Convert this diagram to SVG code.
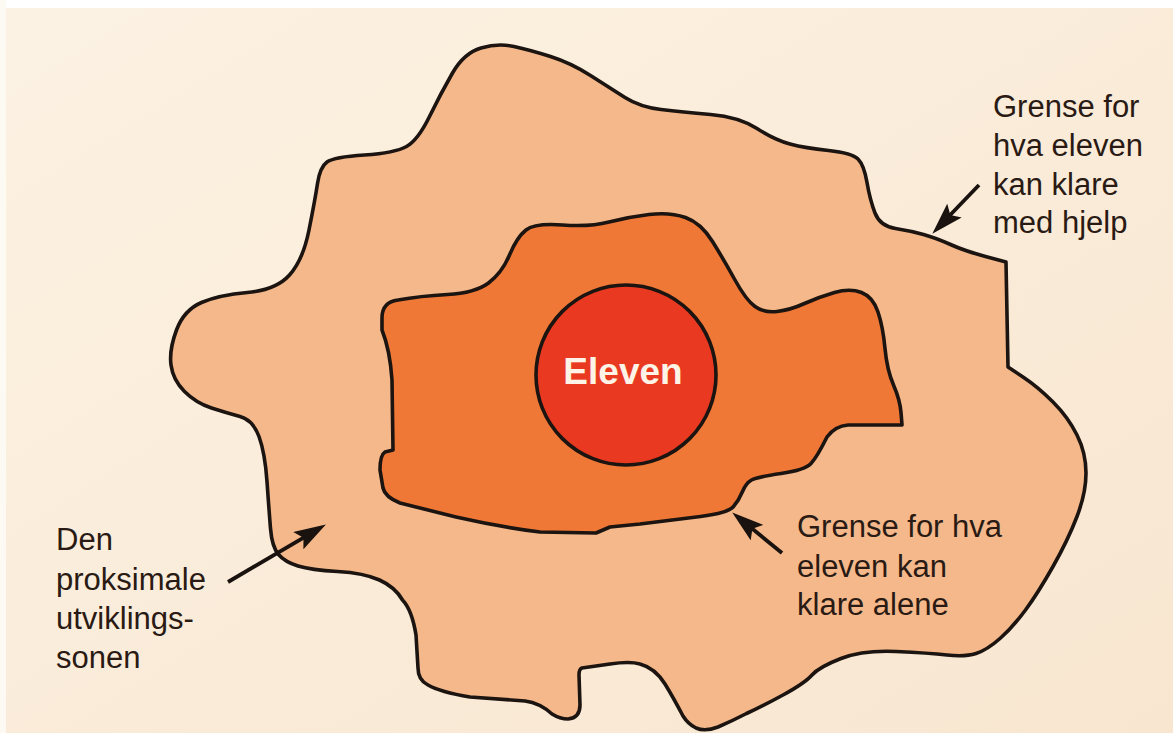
<svg xmlns="http://www.w3.org/2000/svg" width="1173" height="733" viewBox="0 0 1173 733">
<defs>
<linearGradient id="paper" x1="0" y1="0" x2="1" y2="1">
<stop offset="0" stop-color="#fcf2e3"/>
<stop offset="1" stop-color="#f8e6d0"/>
</linearGradient>
<marker id="head" viewBox="0 0 32 20" refX="19" refY="10" markerWidth="32" markerHeight="20" markerUnits="userSpaceOnUse" orient="auto">
<path d="M0,0 L32,10 L0,20 L6,10 Z" fill="#1a120e"/>
</marker>
<style>
.zone{stroke:#1c1410;stroke-width:3.6;stroke-linejoin:round}
.lbl{font-family:"Liberation Sans",Arial,sans-serif;font-size:31px;fill:#2a1a14}
.arrow{stroke:#1a120e;stroke-width:3.8;fill:none;marker-end:url(#head)}
</style>
</defs>
<rect x="0" y="0" width="1173" height="733" fill="url(#paper)"/>
<rect x="0" y="0" width="1173" height="8" fill="#ffffff"/>
<rect x="0" y="0" width="6" height="733" fill="#fdfaf4"/>

<g id="outer-zone">
<path class="zone" fill="#f4b88a" d="M481,48 Q498,43 514,46.5 Q530,50 550.5,56.5 Q571,63 590.5,75.5 Q610,88 625,97.5 Q640,107 661,109.5 Q682,112 710.5,114.5 Q739,117 757,128.5 Q775,140 790,144 Q805,148 828.5,150.5 Q852,153 858,159 Q864,165 867,182.5 Q870,200 875,213 Q880,226 895.5,228.5 Q911,231 923.5,234.5 Q936,238 950.5,244.5 Q965,251 985.5,256.5 L1006,262 L1008,367 L1023,377 Q1038,387 1053,402 Q1068,417 1077,435 Q1086,453 1086,473 Q1086,493 1077,516.5 Q1068,540 1053,566.5 Q1038,593 1025.5,610 Q1013,627 1000,638.5 Q987,650 976,653.5 Q965,657 947,655 Q929,653 896,651.5 Q863,650 841,658.5 Q819,667 812,675 Q805,683 783,695 Q761,707 746.5,713.5 Q732,721 718,727 Q705,732 696,728 Q688,724 683,716 Q673,697 665,684 Q655,668 640,664 Q630,661 610,664 L582,668 Q579,669 579,675 L580,705 Q580,718 568,719 Q560,719 552,714 Q540,703 525,701 L470,697 Q440,692 428,685 Q418,680 418,668 L416,635 Q412,610 402.5,600 Q395,587 379.5,580 Q364,573 337.5,571.5 Q311,570 298,566 Q285,562 278.5,554.5 Q272,547 270.5,528.5 Q269,510 267,481.5 Q265,453 259,436.5 Q253,420 240,416.5 Q227,413 211.5,408 Q196,403 184.5,391.5 Q173,380 171,365 Q169,350 176.5,330 Q184,310 201.5,302.5 Q219,295 247.5,292.5 Q276,290 289.5,275 Q303,260 309,230 Q315,200 317.5,183.5 Q320,167 327,162 Q334,157 364.5,155 Q395,153 406.5,146.5 Q418,140 429.5,116.5 Q441,93 452.5,73 Q464,53 481,48 Z"/>
</g>

<g id="inner-zone">
<path class="zone" fill="#ef7837" d="M382,318 Q382,302 398,300 Q420,296 447.5,294.5 Q475,293 488.5,283 Q502,273 509.5,255 Q517,237 526,230 Q535,223 562.5,225 Q590,227 609,222 Q628,217 649,214.5 Q670,212 685.5,217.5 Q701,223 712.5,241.5 Q724,260 735,280 Q746,300 755,306.5 Q764,313 777,311.5 Q790,310 804.5,303.5 Q819,297 834.5,292.5 Q850,288 861.5,292.5 Q873,297 878,312 Q883,327 885,348.5 Q887,370 893.5,385 Q900,400 901,412.5 L902,425 L848,425 Q835,426 827,437 Q817,457 811,463.5 Q805,470 781,473.5 Q757,477 751.5,480 Q746,483 742.5,491.5 Q739,500 733.5,506.5 Q728,513 700.5,516.5 Q673,520 640,524 L610,527 L596,533 L540,532 Q500,527 456,517 Q420,508 400,503 Q385,497 383,488 L380,470 Q380,455 385,452 L393,450 L392,380 Q390,350 382,330 Z"/>
</g>

<g id="eleven">
<circle class="zone" cx="626" cy="375" r="90" fill="#e93a21"/>
<text x="623" y="384" text-anchor="middle" style="font-family:'Liberation Sans',Arial,sans-serif;font-weight:bold;font-size:37px;fill:#fdf3e6">Eleven</text>
</g>

<g id="label-help">
<text class="lbl" x="993" y="117">Grense for</text>
<text class="lbl" x="993" y="156">hva eleven</text>
<text class="lbl" x="993" y="195">kan klare</text>
<text class="lbl" x="993" y="233">med hjelp</text>
</g>

<g id="label-alone">
<text class="lbl" x="797" y="537">Grense for hva</text>
<text class="lbl" x="797" y="577">eleven kan</text>
<text class="lbl" x="797" y="615">klare alene</text>
</g>

<g id="label-zone">
<text class="lbl" x="56" y="550">Den</text>
<text class="lbl" x="56" y="590">proksimale</text>
<text class="lbl" x="56" y="629">utviklings-</text>
<text class="lbl" x="56" y="668">sonen</text>
</g>

<g id="connectors">
<line class="arrow" x1="979" y1="185" x2="941.3" y2="224.3"/>
<line class="arrow" x1="782" y1="553" x2="742.3" y2="520.6"/>
<line class="arrow" x1="228" y1="582" x2="314.7" y2="531.1"/>
</g>
</svg>
